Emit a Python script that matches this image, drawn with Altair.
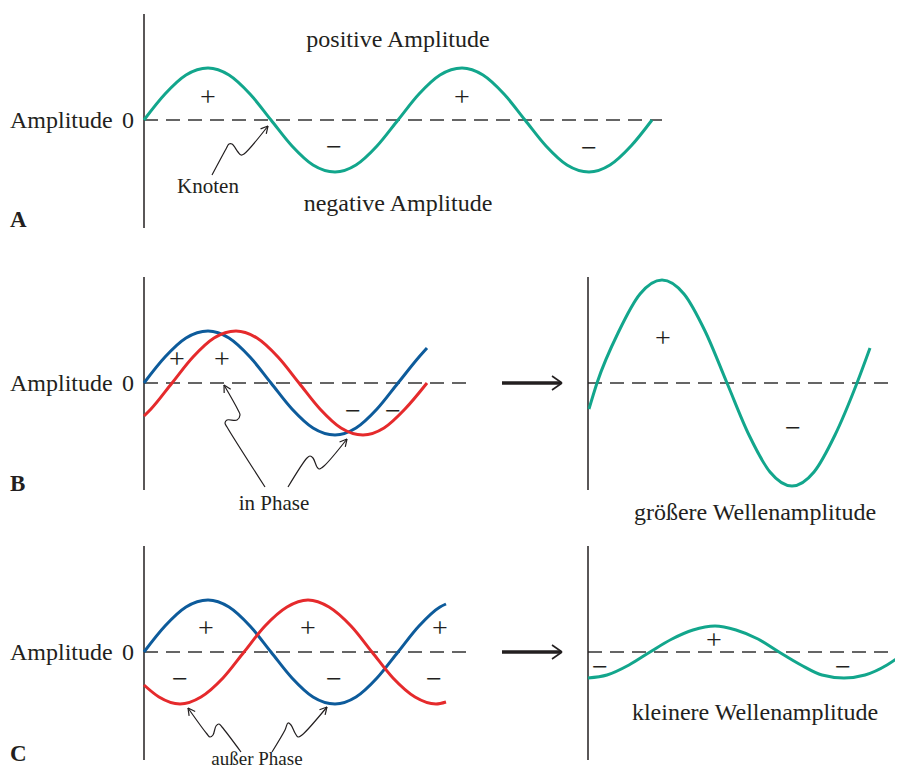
import math
import altair as alt
import pandas as pd

TEAL = "#12a68c"
BLUE = "#0d5b9b"
RED = "#e52a2c"
INK = "#231f20"
SERIF = "Liberation Serif"

# ---------------- wave samples (x, y in figure units) ----------------
A_X = [144, 165, 186, 208, 229, 250, 271, 292, 313, 335, 356, 377, 398, 419, 440, 462, 483, 504, 525, 546, 567, 589, 610, 631, 652]
A_Y = [120, 94, 75, 68, 75, 94, 120, 146, 165, 172, 165, 146, 120, 94, 75, 68, 75, 94, 120, 146, 165, 172, 165, 146, 120]

B_BLUE_X = [144, 165, 186, 208, 229, 250, 271, 292, 313, 335, 356, 377, 398, 419, 427]
B_BLUE_Y = [383, 357, 338, 331, 338, 357, 383, 409, 428, 435, 428, 409, 383, 357, 348]
B_RED_X = [144, 151, 172, 193, 214, 236, 257, 278, 299, 320, 341, 363, 384, 405, 427]
B_RED_Y = [416, 409, 383, 357, 338, 331, 338, 357, 383, 409, 428, 435, 428, 409, 383]
B_SUM_X = [589, 597, 619, 640, 662, 684, 705, 727, 749, 770, 792, 814, 835, 857, 870]
B_SUM_Y = [409, 383, 331, 294, 280, 294, 331, 383, 435, 472, 486, 472, 435, 383, 348]

C_BLUE_X = [144, 165, 186, 208, 229, 250, 271, 292, 313, 335, 356, 377, 398, 419, 440, 446]
C_BLUE_Y = [652, 626, 607, 600, 607, 626, 652, 678, 697, 704, 697, 678, 652, 626, 607, 604]
C_RED_X = [144, 159, 180, 201, 223, 244, 265, 287, 308, 329, 351, 372, 393, 415, 436, 446]
C_RED_Y = [685, 697, 704, 697, 678, 652, 626, 607, 600, 607, 626, 652, 678, 697, 704, 702]
C_SUM_X = [588, 607, 629, 650, 672, 693, 715, 736, 758, 779, 801, 822, 844, 865, 887, 903]
C_SUM_Y = [678, 675, 665, 652, 639, 630, 626, 630, 639, 652, 665, 675, 678, 675, 665, 654]

# zero lines (dashed) and vertical axes
ZERO_X1 = [144, 144, 588, 144, 588]
ZERO_X2 = [662, 472, 903, 472, 903]
ZERO_Y = [120, 383, 383, 652, 652]
AXIS_X = [144, 144, 588, 144, 588]
AXIS_Y1 = [14, 277, 277, 546, 546]
AXIS_Y2 = [228, 490, 490, 760, 760]

# annotation arrows (wavy pointers)
POINTERS = {
    "knoten": ([212, 226, 229, 232, 238, 241, 244, 268], [175, 149, 144, 144, 152, 155, 154, 126]),
    "in1": ([265, 227, 225, 227, 237, 240, 238, 224], [487, 427, 423, 420, 420, 415, 410, 385]),
    "in2": ([288, 307, 310, 313, 317, 319, 324, 347], [487, 458, 456, 458, 467, 469, 466, 439]),
    "aus1": ([241, 222, 219, 216, 213, 210, 207, 188], [752, 727, 724, 726, 735, 737, 734, 708]),
    "aus2": ([272, 285, 288, 291, 295, 298, 302, 327], [752, 730, 723, 725, 733, 737, 735, 707]),
}
# big arrows between panels
BIG_ARROW_X1 = [502, 502]
BIG_ARROW_X2 = [561, 561]
BIG_ARROW_Y = [383, 652]

# signs
PLUS_X = [208, 462, 177, 222, 663, 206, 308, 440, 714]
PLUS_Y = [97, 97, 359, 359, 338, 628, 628, 628, 640]
MINUS_X = [334, 589, 353, 393, 793, 180, 334, 434, 600, 843]
MINUS_Y = [147, 148, 411, 411, 428, 679, 679, 679, 667, 667]

# texts
BIG_TEXT = ["positive Amplitude", "negative Amplitude", "größere Wellenamplitude", "kleinere Wellenamplitude"]
BIG_TEXT_X = [398, 398, 755, 755]
BIG_TEXT_Y = [47, 211, 520, 720]
AMP_Y = [128, 391, 660]
SMALL_TEXT = ["Knoten", "in Phase", "außer Phase"]
SMALL_TEXT_X = [208, 274, 257]
SMALL_TEXT_Y = [193, 510, 765]
SMALL_TEXT_SIZE = [21, 21, 19]
LETTERS = ["A", "B", "C"]
LETTER_Y = [227, 491, 761]

# ---------------- build tables ----------------
def X(field="x"):
    return alt.X(f"{field}:Q", scale=alt.Scale(domain=[8, 895], nice=False, zero=False), axis=None)

def Y(field="y"):
    return alt.Y(f"{field}:Q", scale=alt.Scale(domain=[8, 770], nice=False, zero=False, reverse=True), axis=None)

rows = []
for name, xs, ys, col in [
    ("a", A_X, A_Y, TEAL),
    ("bb", B_BLUE_X, B_BLUE_Y, BLUE),
    ("br", B_RED_X, B_RED_Y, RED),
    ("bs", B_SUM_X, B_SUM_Y, TEAL),
    ("cb", C_BLUE_X, C_BLUE_Y, BLUE),
    ("cr", C_RED_X, C_RED_Y, RED),
    ("cs", C_SUM_X, C_SUM_Y, TEAL),
]:
    for i, (x, y) in enumerate(zip(xs, ys)):
        rows.append({"w": name, "i": i, "x": x, "y": y, "c": col})
waves = pd.DataFrame(rows)

zero_df = pd.DataFrame({"x": ZERO_X1, "x2": ZERO_X2, "y": ZERO_Y})
axis_df = pd.DataFrame({"x": AXIS_X, "y": AXIS_Y1, "y2": AXIS_Y2})

prow = []
heads = []
for name, (xs, ys) in POINTERS.items():
    for i, (x, y) in enumerate(zip(xs, ys)):
        prow.append({"p": name, "i": i, "x": x, "y": y})
    tx, ty = xs[-1], ys[-1]
    dx, dy = tx - xs[-2], ty - ys[-2]
    n = math.hypot(dx, dy)
    dx, dy = dx / n, dy / n
    for s in (1, -1):
        a = math.radians(28) * s
        rx = dx * math.cos(a) - dy * math.sin(a)
        ry = dx * math.sin(a) + dy * math.cos(a)
        heads.append({"x": tx, "y": ty, "x2": tx - 8 * rx, "y2": ty - 8 * ry})
ptr_df = pd.DataFrame(prow)
big_heads = []
for xa, ya in zip(BIG_ARROW_X2, BIG_ARROW_Y):
    big_heads.append({"x": xa + 1, "y": ya, "x2": xa - 9, "y2": ya - 7})
    big_heads.append({"x": xa + 1, "y": ya, "x2": xa - 9, "y2": ya + 7})
heads_df = pd.DataFrame(heads)
big_heads_df = pd.DataFrame(big_heads)
big_df = pd.DataFrame({"x": BIG_ARROW_X1, "x2": BIG_ARROW_X2, "y": BIG_ARROW_Y})

plus_df = pd.DataFrame({"x": PLUS_X, "y": PLUS_Y, "t": ["+"] * len(PLUS_X)})
minus_df = pd.DataFrame({"x": MINUS_X, "y": MINUS_Y, "t": ["\u2212"] * len(MINUS_X)})
big_text_df = pd.DataFrame({"x": BIG_TEXT_X, "y": BIG_TEXT_Y, "t": BIG_TEXT})
amp_df = pd.DataFrame({"x": [10] * 3, "y": AMP_Y, "t": ["Amplitude"] * 3})
zero_lbl_df = pd.DataFrame({"x": [128] * 3, "y": AMP_Y, "t": ["0"] * 3})
small_df = pd.DataFrame({"x": SMALL_TEXT_X, "y": SMALL_TEXT_Y, "t": SMALL_TEXT, "s": SMALL_TEXT_SIZE})
letter_df = pd.DataFrame({"x": [10] * 3, "y": LETTER_Y, "t": LETTERS})

# ---------------- layers ----------------
zero_layer = alt.Chart(zero_df).mark_rule(color="#333333", strokeWidth=1.4, strokeDash=[14, 8]).encode(
    x=X(), x2="x2:Q", y=Y())
axis_layer = alt.Chart(axis_df).mark_rule(color=INK, strokeWidth=1.5).encode(x=X(), y=Y(), y2="y2:Q")
wave_layer = alt.Chart(waves).mark_line(strokeWidth=3, interpolate="monotone").encode(
    x=X(), y=Y(), detail="w:N", order="i:Q", color=alt.Color("c:N", scale=None))
ptr_layer = alt.Chart(ptr_df).mark_line(color=INK, strokeWidth=1.2, interpolate="catmull-rom").encode(
    x=X(), y=Y(), detail="p:N", order="i:Q")
head_layer = alt.Chart(heads_df).mark_rule(color=INK, strokeWidth=1.2).encode(
    x=X(), y=Y(), x2="x2:Q", y2="y2:Q")
big_layer = alt.Chart(big_df).mark_rule(color=INK, strokeWidth=3.5).encode(x=X(), x2="x2:Q", y=Y())
big_head_layer = alt.Chart(big_heads_df).mark_rule(color=INK, strokeWidth=1.6).encode(
    x=X(), y=Y(), x2="x2:Q", y2="y2:Q")

def txt(df, size, align="center", baseline="alphabetic", weight="normal", dy=0):
    return alt.Chart(df).mark_text(font=SERIF, fontSize=size, align=align, baseline=baseline,
                                   fontWeight=weight, color=INK, dy=dy).encode(x=X(), y=Y(), text="t:N")

plus_layer = txt(plus_df, 28, baseline="middle", dy=1)
minus_layer = txt(minus_df, 28, baseline="middle", dy=1)
big_text_layer = txt(big_text_df, 24)
amp_layer = txt(amp_df, 24, align="left")
zero_lbl_layer = txt(zero_lbl_df, 24)
small_layer = alt.Chart(small_df).mark_text(font=SERIF, align="center", baseline="alphabetic", color=INK).encode(
    x=X(), y=Y(), text="t:N", size=alt.Size("s:Q", scale=None))
letter_layer = txt(letter_df, 23, align="left", weight="bold")

chart = alt.layer(
    zero_layer, axis_layer, wave_layer, ptr_layer, head_layer, big_layer, big_head_layer,
    plus_layer, minus_layer, big_text_layer, amp_layer, zero_lbl_layer, small_layer, letter_layer,
).properties(
    width=887, height=762, padding=0, background="white",
    autosize=alt.AutoSizeParams(type="none"),
).configure_view(strokeWidth=0)

chart.save("out.html", embed_options={"renderer": "svg", "actions": False})
